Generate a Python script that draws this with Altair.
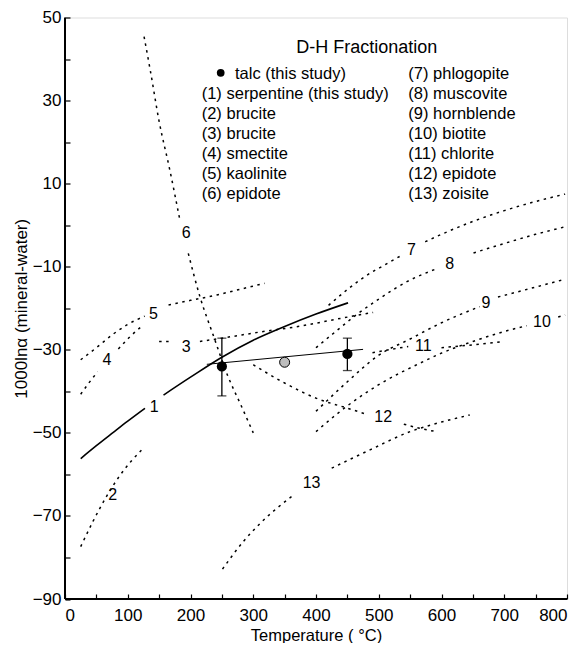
import altair as alt
import pandas as pd

# ---------------- data ----------------
# curve 1 (serpentine, this study) - solid; None marks the gap left for the label
c1_T = [25, 50, 77, 100, 127.5, None, 157, 200, 250, 300, 350, 400, 451]
c1_V = [-56.2, -53.1, -49.9, -47.2, -44.1, None, -40.9, -36.6, -31.8, -27.7, -24.4, -21.4, -18.7]
# dashed curves 2-13
c2_T = [25, 45, 65, 85, 105, 123]
c2_V = [-77.4, -71.2, -65.6, -60.8, -56.9, -54]
c3_T = [150, 172, None, 215, 250, 316, 375, 430, 491]
c3_V = [-28, -28, None, -28, -27.2, -25.6, -24.3, -22.7, -21]
c4_T = [25, 38, 52, None, 85, 104, 125]
c4_V = [-40.7, -38, -35.3, None, -29.8, -26.8, -24]
c5_T = [25, 50, 77, 100, 127, None, 165, 200, 242, 280, 318]
c5_V = [-32.4, -29.5, -26.2, -23.9, -21.9, None, -19.2, -18.1, -16.8, -15.4, -14]
c6_T = [126, 136, 150, 167, 183, None, 196.5, 215, 236, 260, 280, 300]
c6_V = [45.4, 37.2, 25, 13.3, 1.3, None, -6.8, -17.2, -26.4, -36.5, -43.2, -50]
c7_T = [420, 450, 489, 502, 536, None, 574, 600, 650, 700, 750, 797]
c7_V = [-19.3, -15.5, -11.3, -10.2, -7.3, None, -4, -2.2, 0.9, 3.5, 5.7, 7.5]
c8_T = [400, 433, 465, 502, 545, 592, None, 651, 700, 750, 797]
c8_V = [-29.5, -25.4, -21.5, -17.6, -13.6, -10.5, None, -6.7, -4.4, -2.2, -0.4]
c9_T = [400, 450, 500, 550, 600, 661, None, 690, 750, 797]
c9_V = [-44.8, -37.7, -31.3, -27.4, -23.5, -19.6, None, -17.3, -14.9, -13]
c10_T = [400, 450, 500, 566, 600, 650, 700, 736, None, 786, 797]
c10_V = [-49.7, -43.5, -38.4, -33.2, -30.8, -28, -25.6, -24.2, None, -22.1, -21.6]
c11_T = [490, 520, 547, None, 600, 650, 693]
c11_V = [-30.7, -29.9, -29.2, None, -29.5, -28.8, -28.1]
c12_T = [300, 350, 401, 451, 478, None, 540, 565, 592]
c12_V = [-33.6, -38, -41.7, -44.1, -45.4, None, -47.9, -48.9, -49.7]
c13_T = [251, 284, 311, 364, None, 425, 486, 550, 600, 645]
c13_V = [-82.8, -76.2, -71.8, -65, None, -58.5, -54.1, -49.7, -47.4, -45.7]

# fit line through talc data
fit_T = [226, 475]
fit_V = [-33.5, -29.9]
# talc (this study) with error bars
talc_T = [250, 450]
talc_V = [-34, -31]
talc_lo = [-41.1, -35]
talc_hi = [-27.2, -27.2]
# serpentine (gray point)
serp_T = [350]
serp_V = [-33]

# curve labels
lab_text = ["1", "2", "3", "4", "5", "6", "7", "8", "9", "10", "11", "12", "13"]
lab_T = [142, 76, 193, 67, 141, 193, 552, 613, 671, 760, 571, 507, 393]
lab_V = [-43.7, -65, -29.4, -32.5, -21.3, -1.8, -6, -9.3, -18.7, -23.2, -29.1, -46.2, -62.1]

# legend text
legend_title = "D-H Fractionation"
legend_talc = "talc (this study)"
legend_left = ["(1) serpentine (this study)", "(2) brucite", "(3) brucite",
               "(4) smectite", "(5) kaolinite", "(6) epidote"]
legend_right = ["(7) phlogopite", "(8) muscovite", "(9) hornblende", "(10) biotite",
                "(11) chlorite", "(12) epidote", "(13) zoisite"]

x_ticks = list(range(0, 801, 50))
y_ticks = list(range(-90, 51, 10))

# ---------------- build tables ----------------
def build(name, Ts, Vs):
    rows, seg = [], 0
    for t, v in zip(Ts, Vs):
        if t is None:
            seg += 1
            continue
        rows.append(dict(curve=name, seg=f"{name}-{seg}", T=t, V=v, i=len(rows)))
    return rows

dashed_rows = []
for nm, Ts, Vs in [("2", c2_T, c2_V), ("3", c3_T, c3_V), ("4", c4_T, c4_V), ("5", c5_T, c5_V),
                   ("6", c6_T, c6_V), ("7", c7_T, c7_V), ("8", c8_T, c8_V), ("9", c9_T, c9_V),
                   ("10", c10_T, c10_V), ("11", c11_T, c11_V), ("12", c12_T, c12_V),
                   ("13", c13_T, c13_V)]:
    dashed_rows += build(nm, Ts, Vs)
df_dashed = pd.DataFrame(dashed_rows)
df_solid = pd.DataFrame(build("1", c1_T, c1_V))
df_fit = pd.DataFrame({"T": fit_T, "V": fit_V})
df_talc = pd.DataFrame({"T": talc_T, "V": talc_V, "lo": talc_lo, "hi": talc_hi})
df_caps = pd.DataFrame({"T": talc_T + talc_T, "V": talc_lo + talc_hi})
df_serp = pd.DataFrame({"T": serp_T, "V": serp_V})
df_lab = pd.DataFrame({"T": lab_T, "V": lab_V, "txt": lab_text})

FONT = "Liberation Sans"
W, H = 502, 581.5
xs = alt.Scale(domain=[0, 800], nice=False, zero=False)
ys = alt.Scale(domain=[-90, 50], nice=False, zero=False)
xa = alt.Axis(values=x_ticks, labelExpr="datum.value % 100 == 0 ? datum.label : ''",
              title="Temperature ( °C)", grid=False, domain=False, offset=-5, tickSize=5,
              tickColor="black", tickWidth=1.2, labelPadding=8, titlePadding=4,
              labelFontSize=17, titleFontSize=16.5, labelColor="black", titleColor="black",
              titleFontWeight="normal", labelFont=FONT, titleFont=FONT)
ya = alt.Axis(values=y_ticks, labelExpr="datum.value % 20 != 0 ? datum.label : ''",
              title="1000lnα (mineral-water)", grid=False, domain=False, offset=-5, tickSize=5,
              tickColor="black", tickWidth=1.2, labelPadding=4, titlePadding=2,
              labelFontSize=17, titleFontSize=17, labelColor="black", titleColor="black",
              titleFontWeight="normal", labelFont=FONT, titleFont=FONT)

def X(f="T"):
    return alt.X(f"{f}:Q", scale=xs, axis=xa)

def Y(f="V"):
    return alt.Y(f"{f}:Q", scale=ys, axis=ya)

DASH = [2.5, 4.5]
dashed = alt.Chart(df_dashed).mark_line(
    color="black", strokeWidth=1.5, strokeDash=DASH, interpolate="monotone"
).encode(x=X(), y=Y(), detail="seg:N", order="i:Q")

solid = alt.Chart(df_solid).mark_line(
    color="black", strokeWidth=1.6, interpolate="monotone"
).encode(x=X(), y=Y(), detail="seg:N", order="i:Q")

fit = alt.Chart(df_fit).mark_line(color="black", strokeWidth=1).encode(x=X(), y=Y())

err = alt.Chart(df_talc).mark_rule(color="black", strokeWidth=1.3).encode(
    x=X(), y=Y("lo"), y2="hi:Q")
caps = alt.Chart(df_caps).mark_tick(color="black", orient="horizontal", size=9,
                                    thickness=1.3).encode(x=X(), y=Y())
talc = alt.Chart(df_talc).mark_circle(size=105, color="black", opacity=1).encode(x=X(), y=Y())
serp = alt.Chart(df_serp).mark_circle(size=100, fill="#bdbdbd", stroke="black",
                                      strokeWidth=1, opacity=1).encode(x=X(), y=Y())

labels = alt.Chart(df_lab).mark_text(font=FONT, fontSize=16, color="black",
                                     align="center", baseline="middle").encode(
    x=X(), y=Y(), text="txt:N")

one = pd.DataFrame({"k": [0]})
# heavier left and bottom frame edges
frame_left = alt.Chart(one).mark_rule(color="black", strokeWidth=2).encode(
    x=alt.value(0), y=alt.value(0), y2=alt.value(H))
frame_bottom = alt.Chart(one).mark_rule(color="black", strokeWidth=2).encode(
    x=alt.value(0), x2=alt.value(W), y=alt.value(H))

leg_title = alt.Chart(pd.DataFrame({"t": [legend_title]})).mark_text(
    font=FONT, fontSize=18, color="black", align="center", baseline="alphabetic"
).encode(x=alt.value(301.7), y=alt.value(35.6), text="t:N")
leg_bullet = alt.Chart(one).mark_circle(size=60, color="black", opacity=1).encode(
    x=alt.value(155.7), y=alt.value(55.3))
leg_talc = alt.Chart(pd.DataFrame({"t": [legend_talc]})).mark_text(
    font=FONT, fontSize=16.5, color="black", align="left", baseline="alphabetic"
).encode(x=alt.value(170), y=alt.value(61.5), text="t:N")
leg_left = alt.Chart(pd.DataFrame({"t": ["\n".join(legend_left)]})).mark_text(
    font=FONT, fontSize=16.5, color="black", align="left", baseline="alphabetic",
    lineBreak="\n", lineHeight=20
).encode(x=alt.value(136.7), y=alt.value(81.5), text="t:N")
leg_right = alt.Chart(pd.DataFrame({"t": ["\n".join(legend_right)]})).mark_text(
    font=FONT, fontSize=16.5, color="black", align="left", baseline="alphabetic",
    lineBreak="\n", lineHeight=20
).encode(x=alt.value(343.3), y=alt.value(61.5), text="t:N")

chart = alt.layer(
    dashed, solid, fit, err, caps, talc, serp, labels, frame_left, frame_bottom,
    leg_title, leg_bullet, leg_talc, leg_left, leg_right
).properties(
    width=W, height=H,
    autosize=alt.AutoSizeParams(type="none"),
    padding={"left": 57, "top": 9.5, "right": 8, "bottom": 44},
).configure_view(
    stroke="black", strokeWidth=1.5
).configure(font=FONT, background="white")

chart.save("out.html", embed_options={"renderer": "svg", "actions": False})
